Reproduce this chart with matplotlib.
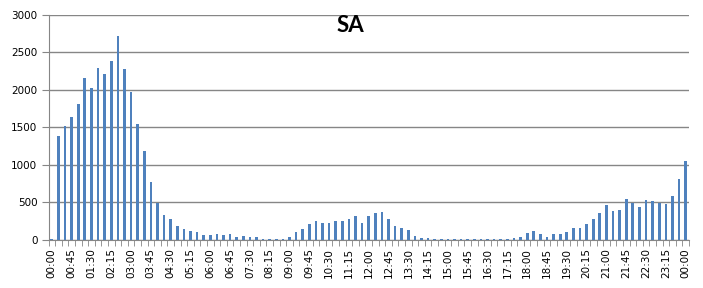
import matplotlib
matplotlib.use('Agg')

import numpy as np
import matplotlib.pyplot as plt

# 15-minute slots from 00:00 to next 00:00 (97 categories)
times = [f"{(i * 15 // 60) % 24:02d}:{i * 15 % 60:02d}" for i in range(97)]

counts = [
    15, 1385, 1518, 1638, 1811, 2157, 2024, 2290, 2210, 2383,
    2716, 2277, 1971, 1545, 1185, 772, 497, 333, 280, 186,
    146, 120, 107, 67, 67, 80, 67, 80, 40, 53,
    40, 40, 13, 13, 13, 13, 40, 106, 146, 212,
    252, 226, 226, 252, 252, 279, 319, 226, 319, 358,
    372, 279, 186, 159, 133, 53, 27, 27, 13, 13,
    13, 13, 13, 13, 13, 13, 13, 13, 13, 13,
    27, 40, 93, 120, 80, 40, 80, 80, 106, 159,
    159, 212, 279, 358, 465, 385, 398, 544, 495, 438,
    531, 518, 496, 478, 584, 810, 1049,
]

fig = plt.figure(figsize=(7.03, 2.88), dpi=100)
ax = fig.add_axes([0.069, 0.1667, 0.911, 0.782])

x = np.arange(len(counts))
ax.bar(x, counts, width=0.4, color='#4F81BD', zorder=3)

ax.set_xlim(-0.5, len(counts) - 0.5)
ax.set_ylim(0, 3000)
ax.set_yticks(np.arange(0, 3001, 500))
ax.grid(axis='y', color='#868686', linewidth=1, zorder=0)

# labels every 45 minutes, tick marks between categories
ax.set_xticks(x[::3])
ax.set_xticklabels(times[::3], rotation=90, fontsize=7.5)
ax.set_xticks(np.arange(-0.5, len(counts), 1), minor=True)
ax.tick_params(axis='x', which='major', length=0, pad=6)
ax.tick_params(axis='x', which='minor', length=4, color='#868686', direction='out')
ax.tick_params(axis='y', labelsize=7.5, length=5, color='#868686', pad=3)

for side in ['top', 'right']:
    ax.spines[side].set_visible(False)
for side in ['left', 'bottom']:
    ax.spines[side].set_color('#868686')

fig.text(350.5 / 703, 1 - 26 / 288, 'SA', ha='center', va='center',
         fontsize=16, fontweight='bold', family='Lato')

plt.savefig('out.png', dpi=100)
plt.close()
